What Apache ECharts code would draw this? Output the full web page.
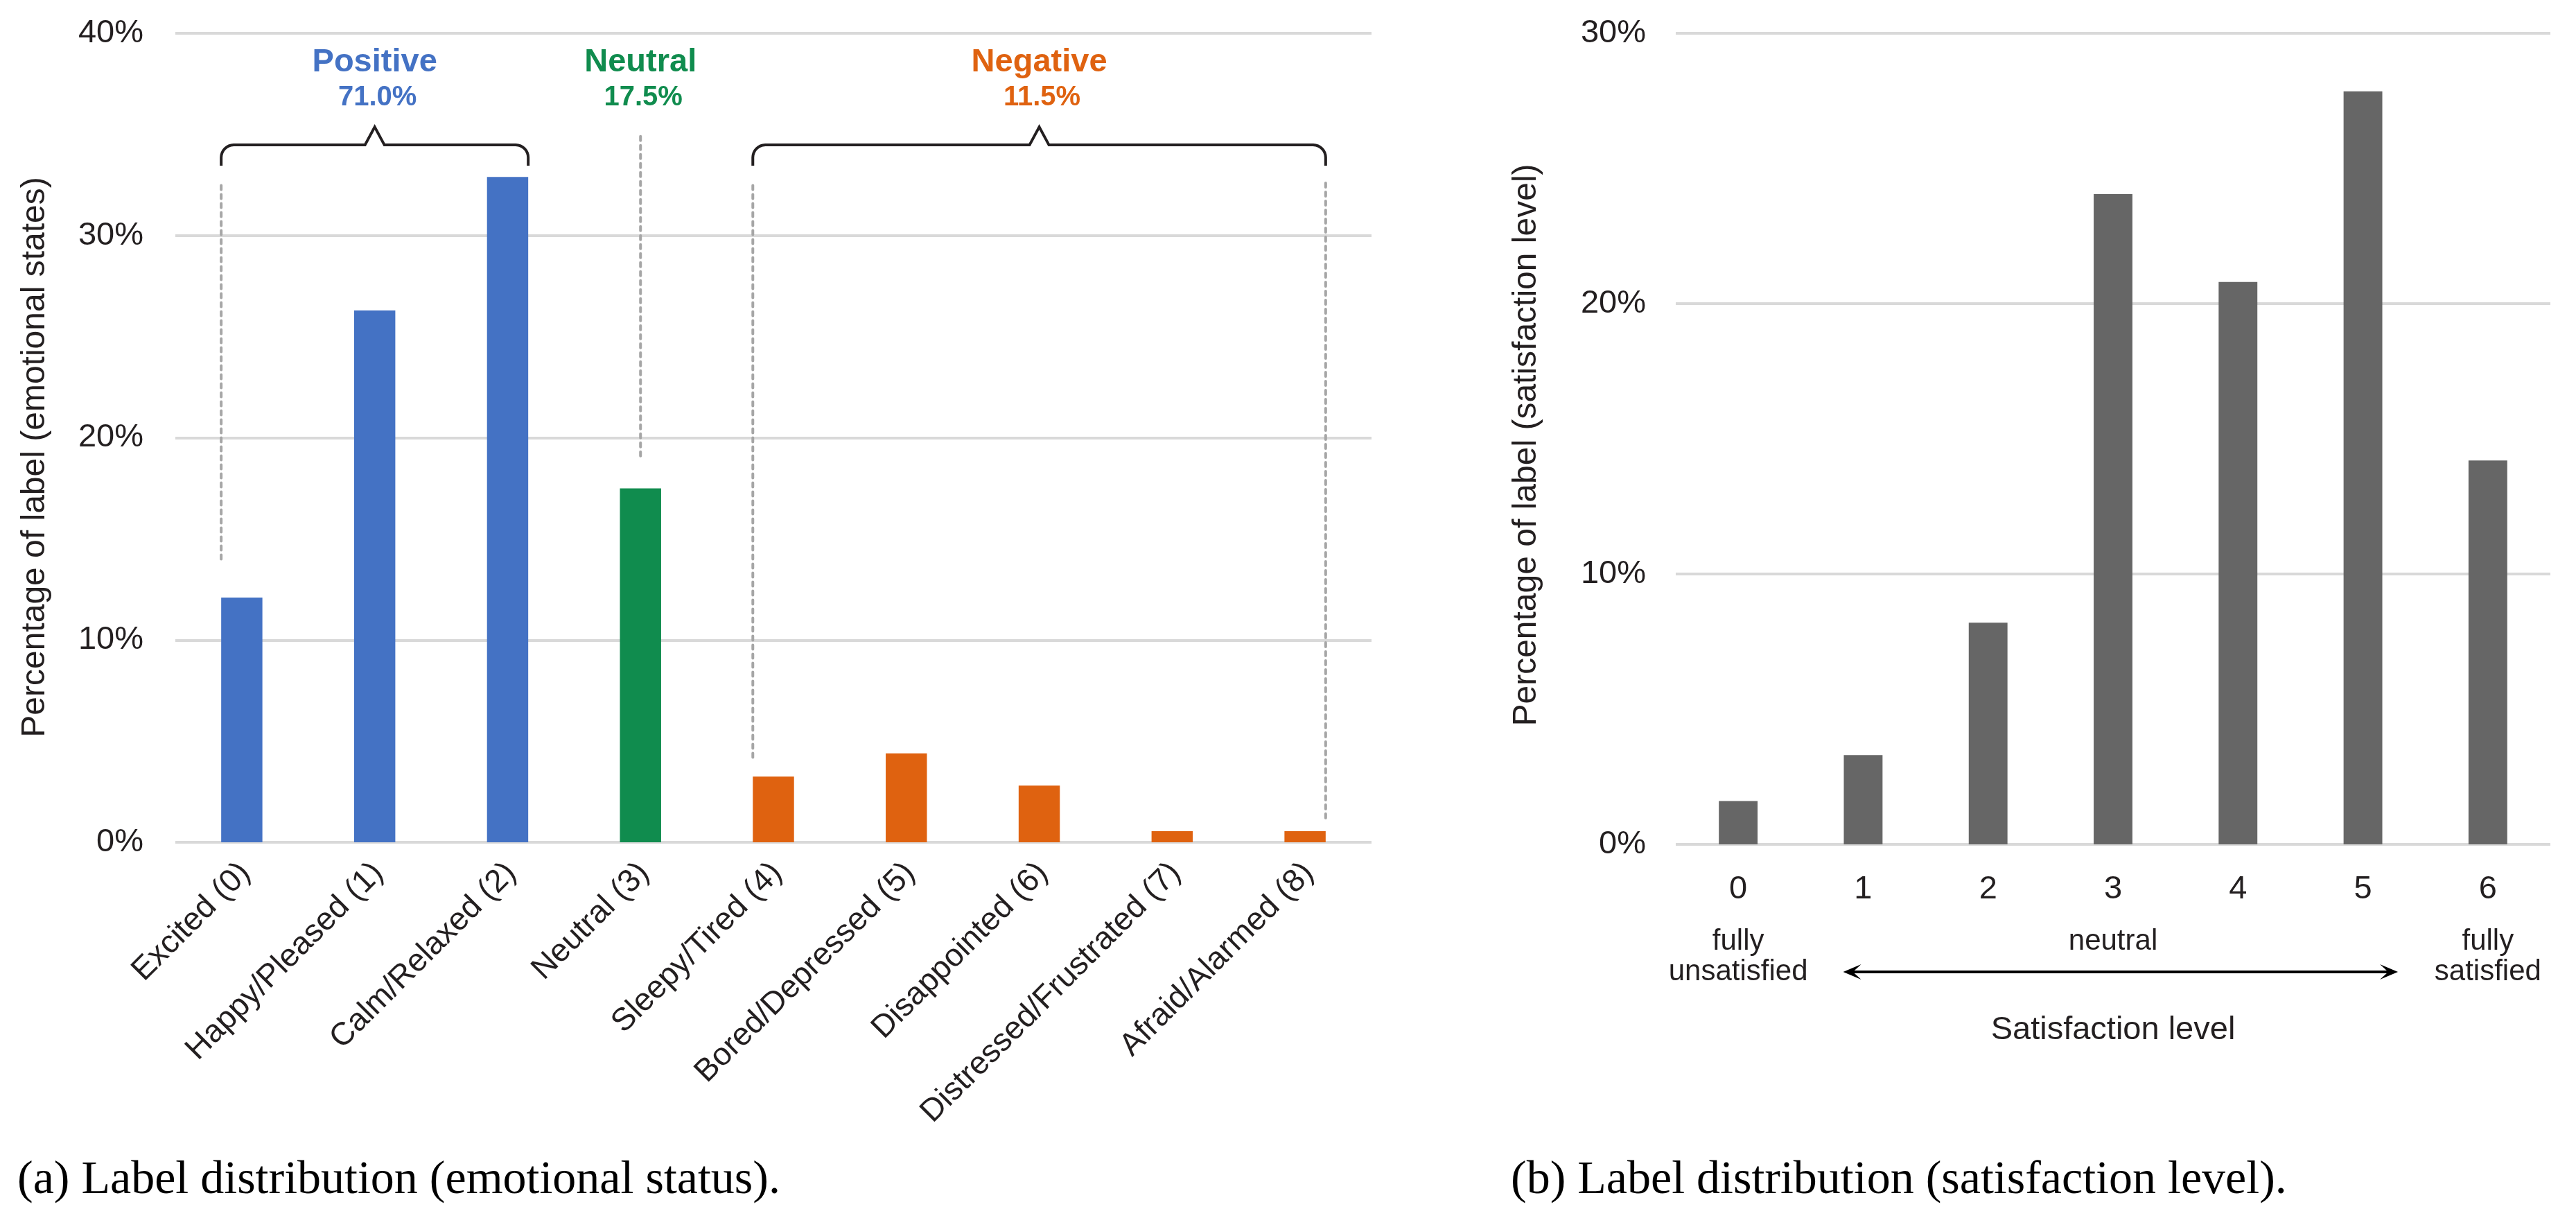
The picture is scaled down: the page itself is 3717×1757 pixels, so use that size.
<!DOCTYPE html>
<html>
<head>
<meta charset="utf-8">
<script src="https://cdn.jsdelivr.net/npm/echarts@6/dist/echarts.min.js"></script>
<style>
html,body{margin:0;padding:0;background:#ffffff;}
#c{width:3717px;height:1757px;}
</style>
</head>
<body>
<div id="c"></div>
<script>
// ---------------- data ----------------
const emoCategories = ['Excited (0)', 'Happy/Pleased (1)', 'Calm/Relaxed (2)', 'Neutral (3)', 'Sleepy/Tired (4)', 'Bored/Depressed (5)', 'Disappointed (6)', 'Distressed/Frustrated (7)', 'Afraid/Alarmed (8)'];
const emoValues = [12.1, 26.3, 32.9, 17.5, 3.25, 4.4, 2.8, 0.55, 0.55];
const emoGroup = ['pos', 'pos', 'pos', 'neu', 'neg', 'neg', 'neg', 'neg', 'neg'];
const groupNames = { pos: 'Positive', neu: 'Neutral', neg: 'Negative' };
const groupShares = { pos: '71.0%', neu: '17.5%', neg: '11.5%' };
const satCategories = ['0', '1', '2', '3', '4', '5', '6'];
const satValues = [1.6, 3.3, 8.2, 24.05, 20.8, 27.85, 14.2];
const satEndLabels = ['fully\nunsatisfied', 'neutral', 'fully\nsatisfied'];
const emoTicks = [0, 10, 20, 30, 40];
const satTicks = [0, 10, 20, 30];

// ---------------- styles ----------------
const FONT = '"Liberation Sans", Arial, Helvetica, sans-serif';
const SERIF = '"Liberation Serif", "Times New Roman", serif';
const TXT = '#231F20';
const groupColors = { pos: '#4472C4', neu: '#108C4E', neg: '#DF6210' };
const GRID_LINE = '#D9D9D9';
const DOT = '#A6A6A6';

const chart = echarts.init(document.getElementById('c'), null, { renderer: 'canvas' });

const option = {
  animation: false,
  backgroundColor: '#ffffff',
  grid: [
    { left: 253, right: 3717 - 1979, top: 48, bottom: 1757 - 1215 },
    { left: 2418, right: 3717 - 3680, top: 48, bottom: 1757 - 1218 }
  ],
  xAxis: [
    {
      type: 'category', gridIndex: 0, data: emoCategories,
      axisLine: { show: false }, axisTick: { show: false },
      axisLabel: { show: false }
    },
    {
      type: 'category', gridIndex: 1, data: satCategories,
      axisLine: { show: false }, axisTick: { show: false },
      axisLabel: { interval: 0, fontSize: 47, fontFamily: FONT, color: TXT, margin: 42 },
      name: 'Satisfaction level', nameLocation: 'middle', nameGap: 245,
      nameTextStyle: { fontSize: 47, fontFamily: FONT, color: TXT }
    }
  ],
  yAxis: [
    {
      type: 'value', gridIndex: 0, min: emoTicks[0], max: emoTicks[emoTicks.length - 1], interval: 10,
      axisLine: { show: false }, axisTick: { show: false },
      axisLabel: { formatter: '{value}%', fontSize: 47, fontFamily: FONT, color: TXT, margin: 46 },
      splitLine: { show: true, lineStyle: { color: GRID_LINE, width: 4 } },
      name: 'Percentage of label (emotional states)', nameLocation: 'middle', nameGap: 178,
      nameTextStyle: { fontSize: 48, fontFamily: FONT, color: TXT, padding: [0, 56, 0, 0] }
    },
    {
      type: 'value', gridIndex: 1, min: satTicks[0], max: satTicks[satTicks.length - 1], interval: 10,
      axisLine: { show: false }, axisTick: { show: false },
      axisLabel: { formatter: '{value}%', fontSize: 47, fontFamily: FONT, color: TXT, margin: 43 },
      splitLine: { show: true, lineStyle: { color: GRID_LINE, width: 4 } },
      name: 'Percentage of label (satisfaction level)', nameLocation: 'middle', nameGap: 191,
      nameTextStyle: { fontSize: 48, fontFamily: FONT, color: TXT, padding: [0, 18, 0, 0] }
    }
  ],
  series: [
    {
      type: 'bar', xAxisIndex: 0, yAxisIndex: 0, barWidth: '31%',
      data: emoValues.map((v, i) => ({ value: v, itemStyle: { color: groupColors[emoGroup[i]] } }))
    },
    {
      type: 'bar', xAxisIndex: 1, yAxisIndex: 1, barWidth: '31%',
      itemStyle: { color: '#666666' },
      data: satValues
    }
  ]
};
chart.setOption(option);

// ---------------- annotations (positioned through the axes) ----------------
function P(gi, cat, val) { return chart.convertToPixel({ gridIndex: gi }, [cat, val]); }
const band0 = P(0, 1, 0)[0] - P(0, 0, 0)[0];
const half0 = band0 * 0.31 / 2;
const band1 = P(1, 1, 0)[0] - P(1, 0, 0)[0];

const g = [];

// rotated category labels of chart (a): top-right corner of each label sits just under its tick
emoCategories.forEach((name, i) => {
  const p = P(0, i, 0);
  g.push({ type: 'text', x: p[0] - 11, y: p[1] + 21, rotation: Math.PI / 4,
    style: { text: name, x: 0, y: 0, align: 'right', verticalAlign: 'top', fontSize: 46, fontFamily: FONT, fill: TXT }, z: 6 });
});

// dotted guide lines: [category, edge(-1 left / 0 centre / 1 right), bottom value, top value]
const guides = [[0, -1, 14.0, 32.7], [3, 0, 19.1, 35.1], [4, -1, 4.2, 32.7], [8, 1, 1.2, 32.7]];
guides.forEach(([c, e, lo, hi]) => {
  const x = P(0, c, 0)[0] + e * half0;
  g.push({ type: 'line', shape: { x1: x, y1: P(0, c, lo)[1], x2: x, y2: P(0, c, hi)[1] },
    style: { stroke: DOT, lineWidth: 4, lineDash: [6, 7], lineCap: 'round' }, z: 5 });
});

// braces
const braces = [['pos', 0, 2], ['neg', 4, 8]];
const yEnd = P(0, 0, 33.45)[1];
const yH = yEnd - 30, yPk = yH - 26, r = 18, pk = 14;
function arc(cx, cy, a0, a1) {
  const pts = [];
  for (let k = 0; k <= 8; k++) {
    const a = a0 + (a1 - a0) * k / 8;
    pts.push([cx + r * Math.cos(a), cy + r * Math.sin(a)]);
  }
  return pts;
}
function groupLabel(key, xc) {
  g.push({ type: 'text', style: { text: groupNames[key], x: xc, y: yPk - 93, align: 'center', verticalAlign: 'middle',
    fontSize: 47, fontWeight: 'bold', fontFamily: FONT, fill: groupColors[key] }, z: 6 });
  g.push({ type: 'text', style: { text: groupShares[key], x: xc + 4, y: yPk - 42, align: 'center', verticalAlign: 'middle',
    fontSize: 40, fontWeight: 'bold', fontFamily: FONT, fill: groupColors[key] }, z: 6 });
}
braces.forEach(([key, a, b]) => {
  const x1 = P(0, a, 0)[0] - half0, x2 = P(0, b, 0)[0] + half0, xc = (x1 + x2) / 2;
  const pts = [[x1, yEnd]]
    .concat(arc(x1 + r, yH + r, Math.PI, 1.5 * Math.PI))
    .concat([[xc - pk, yH], [xc, yPk], [xc + pk, yH]])
    .concat(arc(x2 - r, yH + r, 1.5 * Math.PI, 2 * Math.PI))
    .concat([[x2, yEnd]]);
  g.push({ type: 'polyline', shape: { points: pts }, style: { fill: null, stroke: TXT, lineWidth: 4, lineJoin: 'miter' }, z: 6 });
  groupLabel(key, xc);
});
groupLabel('neu', P(0, 3, 0)[0]);

// satisfaction sub-labels and arrow
const y0 = P(1, 0, 0)[1];
[[0, satEndLabels[0]], [3, satEndLabels[1]], [6, satEndLabels[2]]].forEach(([c, t]) => {
  g.push({ type: 'text', style: { text: t, x: P(1, c, 0)[0], y: y0 + 118, align: 'center', verticalAlign: 'top',
    fontSize: 42, lineHeight: 44, fontFamily: FONT, fill: TXT }, z: 6 });
});
const ay = y0 + 184;
const ax1 = P(1, 1, 0)[0] - 0.16 * band1, ax2 = P(1, 5, 0)[0] + 0.28 * band1;
g.push({ type: 'line', shape: { x1: ax1 + 12, y1: ay, x2: ax2 - 12, y2: ay }, style: { stroke: '#000', lineWidth: 4 }, z: 6 });
g.push({ type: 'polygon', shape: { points: [[ax1, ay], [ax1 + 26, ay - 11], [ax1 + 14, ay], [ax1 + 26, ay + 11]] }, style: { fill: '#000' }, z: 6 });
g.push({ type: 'polygon', shape: { points: [[ax2, ay], [ax2 - 26, ay - 11], [ax2 - 14, ay], [ax2 - 26, ay + 11]] }, style: { fill: '#000' }, z: 6 });

// captions
g.push({ type: 'text', style: { text: '(a) Label distribution (emotional status).', x: 25, y: 1703, align: 'left', verticalAlign: 'middle',
  fontSize: 68, fontFamily: SERIF, fill: '#000' } });
g.push({ type: 'text', style: { text: '(b) Label distribution (satisfaction level).', x: 2180, y: 1703, align: 'left', verticalAlign: 'middle',
  fontSize: 68, fontFamily: SERIF, fill: '#000' } });

chart.setOption({ graphic: { elements: g } });
</script>
</body>
</html>
